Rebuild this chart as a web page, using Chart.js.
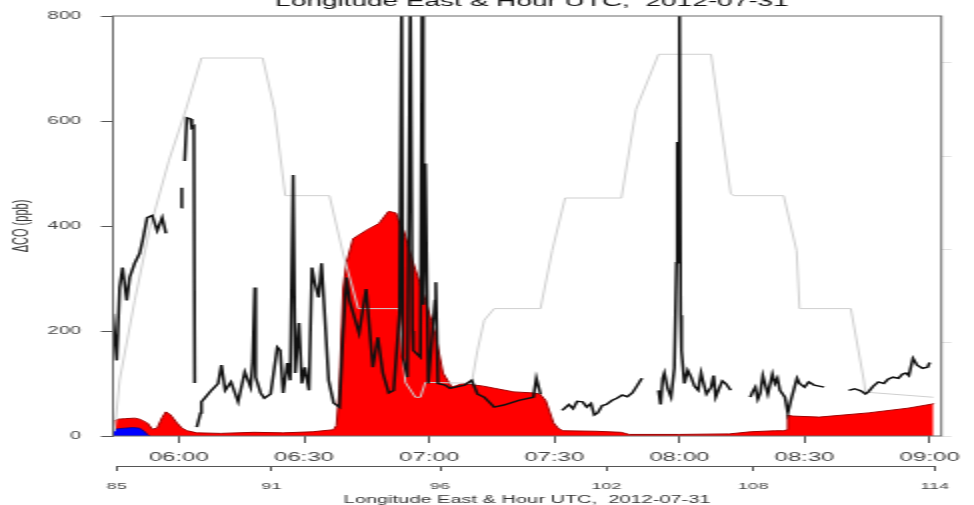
<!DOCTYPE html>
<html>
<head>
<meta charset="utf-8">
<script src="https://cdn.jsdelivr.net/npm/chart.js@4.4.1/dist/chart.umd.min.js"></script>
<style>
  html, body { margin: 0; padding: 0; background: #fff; overflow: hidden; }
  /* the original figure is stretched 2x sideways, so draw at half width and stretch */
  #wrap { width: 487px; height: 505px; transform: scaleX(2); transform-origin: 0 0; }
</style>
</head>
<body>
<div id="wrap"><canvas id="c" width="487" height="505"></canvas></div>
<script>
// time in minutes after 00:00 UTC, values in ppb / km
var tMin = 344.2, tMax = 542.8;
var hourTicks = [360, 390, 420, 450, 480, 510, 540];
var lonLabels = [85, 91, 96, 102, 108, 114];
var lonTime = [345.1, 382.2, 422.6, 462.5, 497.7, 541.2];
var coTicks = [0, 200, 400, 600, 800];
var altTicks = [0, 2, 4, 6, 8];

// black line: measured delta CO (null = gap)
var coReadings = [
  [344.2,233],[345.1,144],[345.8,283],[346.5,321],[347.5,258],[348.2,302],[349.4,329],[350.6,348],
  [351.3,372],[352.4,416],[353.6,420],[354.8,391],[356.0,416],[356.9,386],[357.2,null],
  [360.5,435],[360.7,473],[361.0,null],
  [361.4,524],[361.9,606],[362.8,604],[363.1,587],[363.6,590],[363.8,101],[364.0,null],
  [364.3,17],[365.2,44],[365.4,65],[366.4,74],[367.8,87],[369.4,100],[370.2,135],[371.1,87],
  [372.5,103],[374.2,65],[375.8,122],[377.2,93],[377.7,144],[378.2,283],[378.4,112],[379.6,82],
  [380.5,72],[382.0,80],[383.6,169],[384.3,163],[385.0,82],[386.0,139],[386.7,106],[387.4,497],
  [387.9,120],[388.8,215],[389.5,100],[390.2,131],[391.2,87],[391.9,321],[392.6,291],[393.5,264],
  [394.2,329],[394.9,239],[395.9,106],[397.1,63],[398.5,55],[399.4,200],[400.2,302],[400.9,258],
  [403.2,196],[404.9,280],[406.5,131],[407.7,188],[408.9,120],[410.3,82],[411.5,87],[412.9,234],
  [413.4,850],[413.7,150],[414.8,112],[415.5,850],[416.0,200],[416.2,163],[417.9,150],[418.3,850],
  [418.6,250],[419.1,519],[419.8,100],[421.4,258],[421.6,293],[422.1,100],[423.8,97],[425.0,91],
  [428.5,97],[430.2,106],[431.6,80],[433.2,74],[435.6,55],[437.9,59],[441.5,68],[445.0,74],
  [445.7,110],[446.7,80],[447.5,null],
  [451.9,49],[453.5,60],[454.5,52],[455.5,66],[456.8,65],[457.8,55],[458.8,62],[459.6,40],
  [460.4,44],[461.5,58],[462.5,60],[463.9,68],[465.0,72],[466.3,78],[467.5,75],[468.7,82],
  [469.8,95],[471.0,110],[471.5,null],
  [475.0,87],[475.5,60],[476.0,110],[476.4,120],[477.2,90],[478.0,74],[478.8,130],[479.3,330],
  [479.5,560],[479.7,330],[480.0,850],[480.3,230],[480.5,163],[481.2,100],[482.0,125],[482.8,112],
  [483.6,95],[484.5,87],[485.2,120],[485.7,103],[486.5,80],[487.6,93],[488.2,115],[488.7,74],
  [489.5,90],[490.3,105],[491.1,100],[492.3,87],[492.8,null],
  [497.0,74],[497.6,85],[498.2,93],[498.8,70],[499.4,82],[500.0,115],[500.5,100],[501.2,80],
  [501.7,97],[502.3,118],[502.9,100],[503.5,110],[504.1,87],[505.3,74],[506.0,44],[506.8,70],
  [507.6,93],[508.2,110],[508.8,100],[510.0,93],[511.0,103],[512.3,97],[513.5,95],[514.7,93],
  [515.2,null],
  [520.6,87],[522.0,90],[523.5,86],[524.6,80],[525.3,84],[526.5,95],[527.7,103],[529.0,100],
  [530.0,108],[531.2,112],[532.5,110],[533.5,118],[534.3,120],[535.0,115],[536.0,148],[537.0,135],
  [538.3,129],[539.5,131],[540.0,140]
];

// red area
var redReadings = [
  [344.2,28],[345.5,32],[347.0,33],[349.4,34],[350.6,32],[352.4,25],[353.6,13],[354.8,15],
  [356.0,35],[356.9,46],[358.0,40],[359.5,25],[360.7,15],[362.0,10],[364.3,6],[370.0,5],
  [378.0,7],[385.0,6],[392.0,8],[397.1,12],[397.8,20],[398.5,90],[399.4,280],[400.2,330],
  [401.8,376],[405.0,392],[408.0,405],[410.3,428],[412.0,425],[412.7,410],[413.9,391],[416.0,334],
  [419.1,258],[421.4,196],[423.3,120],[425.4,93],[428.0,100],[430.9,97],[433.0,95],[435.6,91],
  [440.3,84],[445.0,82],[446.5,80],[447.9,68],[449.8,25],[450.9,15],[452.0,10],[460.0,9],
  [466.0,7],[468.0,3],[480.0,3],[492.0,4],[497.0,8],[503.0,10],[505.0,10],[505.8,12],
  [506.0,40],[507.0,38],[513.5,36],[525.3,44],[534.8,53],[540.7,61],[540.9,62]
];

// blue area
var blueReadings = [
  [344.2,12],[345.5,14],[347.0,15],[349.0,16],[350.6,15],[351.8,8],[352.4,3],[353.0,0]
];

// gray line: flight altitude, km (right axis)
var altReadings = [
  [344.6,0.1],[345.8,1.2],[349.4,2.9],[352.9,4.4],[357.6,5.9],[361.7,7.0],[365.4,8.1],[380.1,8.1],
  [382.9,7.0],[385.5,5.15],[396.1,5.15],[399.4,3.9],[403.0,2.73],[412.7,2.73],[414.3,1.15],[416.7,0.83],
  [417.9,0.83],[419.1,1.15],[430.2,1.13],[431.6,1.84],[433.2,2.48],[435.6,2.73],[446.7,2.73],[449.5,3.97],
  [452.6,5.1],[466.1,5.1],[469.6,7.0],[475.0,8.18],[487.6,8.18],[492.3,5.2],[493.0,5.15],[505.0,5.15],
  [508.1,3.97],[508.8,2.73],[521.1,2.73],[524.2,1.2],[524.6,0.94],[540.9,0.83]
];

var titleText = 'Longitude East & Hour UTC,  2012-07-31';
var FONT = "'Liberation Sans', Arial, Helvetica, sans-serif";

function pts(list) {
  return list.map(function (p) { return { x: p[0], y: p[1] }; });
}
function hhmm(v) {
  var h = Math.floor(v / 60), m = Math.round(v - h * 60);
  return (h < 10 ? '0' : '') + h + ':' + (m < 10 ? '0' : '') + m;
}

var framePlugin = {
  id: 'frame',
  afterDraw: function (chart) {
    var ctx = chart.ctx, a = chart.chartArea;
    ctx.save();
    ctx.strokeStyle = '#6a6a6a';
    ctx.lineWidth = 1;
    ctx.strokeRect(a.left, a.top, a.right - a.left, a.bottom - a.top);
    // longitude axis line from first to last tick
    var s = chart.scales.x2;
    ctx.strokeStyle = '#555';
    ctx.beginPath();
    ctx.moveTo(s.getPixelForValue(lonTime[0]), s.top + 0.5);
    ctx.lineTo(s.getPixelForValue(lonTime[lonTime.length - 1]), s.top + 0.5);
    ctx.stroke();
    // cut-off title at the top
    ctx.fillStyle = '#111';
    ctx.font = '14px ' + FONT;
    ctx.textAlign = 'center';
    ctx.textBaseline = 'alphabetic';
    ctx.fillText(titleText, 266, 5.5);
    ctx.restore();
  }
};

new Chart(document.getElementById('c'), {
  type: 'line',
  data: {
    datasets: [
      {
        label: 'CO',
        data: pts(coReadings),
        borderColor: '#111',
        borderWidth: 1.5,
        pointRadius: 0,
        spanGaps: false,
        fill: false,
        order: 1
      },
      {
        label: 'altitude',
        data: pts(altReadings),
        yAxisID: 'y2',
        borderColor: '#cfcfcf',
        borderWidth: 1,
        pointRadius: 0,
        fill: false,
        order: 2
      },
      {
        label: 'blue',
        data: pts(blueReadings),
        borderColor: '#00008b',
        borderWidth: 0.8,
        backgroundColor: '#0000ff',
        pointRadius: 0,
        fill: 'origin',
        order: 3
      },
      {
        label: 'red',
        data: pts(redReadings),
        borderColor: '#a00000',
        borderWidth: 1,
        backgroundColor: '#ff0000',
        pointRadius: 0,
        fill: 'origin',
        order: 4
      }
    ]
  },
  options: {
    responsive: false,
    animation: false,
    devicePixelRatio: 1,
    layout: { padding: { top: 15, left: 0, right: 0, bottom: 0 } },
    plugins: { legend: { display: false }, tooltip: { enabled: false }, title: { display: false } },
    scales: {
      x: {
        type: 'linear', position: 'bottom', min: tMin, max: tMax, weight: 0,
        afterBuildTicks: function (s) { s.ticks = hourTicks.map(function (v) { return { value: v }; }); },
        afterFit: function (s) { s.height = 30; },
        border: { display: false },
        grid: { drawOnChartArea: false, drawTicks: true, tickLength: 7, color: '#555' },
        ticks: {
          autoSkip: false, maxRotation: 0, padding: 7, color: '#444',
          font: { family: FONT, size: 12 },
          callback: function (v) { return hhmm(v); }
        }
      },
      x2: {
        type: 'linear', position: 'bottom', min: tMin, max: tMax, weight: 1,
        afterBuildTicks: function (s) { s.ticks = lonTime.map(function (v) { return { value: v }; }); },
        afterFit: function (s) { s.height = 39; },
        border: { display: false },
        grid: { drawOnChartArea: false, drawTicks: true, tickLength: 5, color: '#555' },
        ticks: {
          autoSkip: false, maxRotation: 0, padding: 10, color: '#444',
          font: { family: FONT, size: 9 },
          callback: function (v, i) { return String(lonLabels[i]); }
        },
        title: {
          display: true, text: titleText, color: '#333',
          font: { family: FONT, size: 10 }, padding: { top: 0, bottom: -1 }
        }
      },
      y: {
        type: 'linear', position: 'left', min: 0, max: 800,
        afterBuildTicks: function (s) { s.ticks = coTicks.map(function (v) { return { value: v }; }); },
        afterFit: function (s) { s.width = 56.5; },
        border: { display: false },
        grid: { drawOnChartArea: false, drawTicks: true, tickLength: 6, color: '#555' },
        ticks: { padding: 10, color: '#444', font: { family: FONT, size: 10 } },
        title: {
          display: true, text: '\u0394CO (ppb)', color: '#333',
          font: { family: FONT, size: 11 }, padding: { top: 4, bottom: 0 }
        }
      },
      y2: {
        type: 'linear', position: 'right', min: 0, max: 9,
        afterBuildTicks: function (s) { s.ticks = altTicks.map(function (v) { return { value: v }; }); },
        afterFit: function (s) { s.width = 10; },
        border: { display: false },
        grid: { drawOnChartArea: false, drawTicks: true, tickLength: 5, color: '#e2e2e2' },
        ticks: { autoSkip: false, padding: 0, callback: function () { return ''; } }
      }
    }
  },
  plugins: [framePlugin]
});
</script>
</body>
</html>
